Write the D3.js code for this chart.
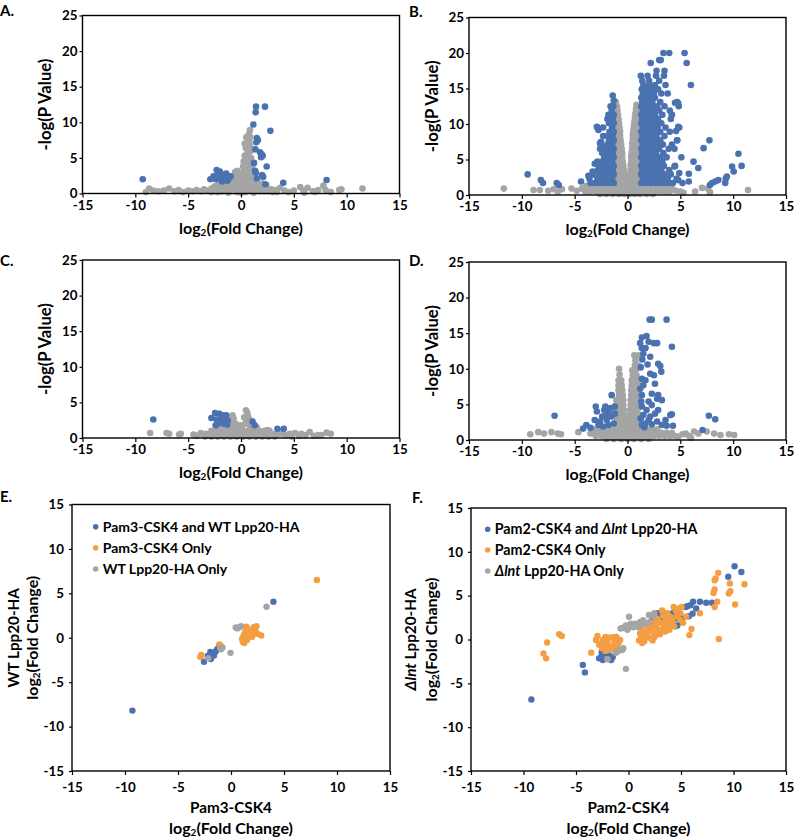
<!DOCTYPE html>
<html><head><meta charset="utf-8">
<script src="https://cdn.jsdelivr.net/npm/d3@7"></script>
<style>
body{margin:0;background:#fff}
svg text{font-family:Lato,"Open Sans",sans-serif;font-weight:bold;fill:#000}
</style></head>
<body><svg id="chart" width="796" height="837"></svg>
<script>
// ---------- tick values ----------
const xTicks = [-15,-10,-5,0,5,10,15];
const volcanoYTicks = [0,5,10,15,20,25];
const scatterYTicks = [-15,-10,-5,0,5,10,15];

// ---------- Panel A ----------
const aBlue = [[1.42,12.2],[2.27,12.2],[1.39,11.4],[1.17,9.7],[2.78,8.8],[1.5,7.8],[1.6,7.5],[1.45,7.2],[1.36,6.2],[1.8,5.8],[1.95,5.5],[1.9,5.1],[2.05,5.3],[1.23,4.3],[2.43,3.8],[1.33,3.2],[1.4,2.9],[2.0,2.6],[2.1,2.3],[1.5,2.1],[4.0,1.5],[2.3,1.3],[8.1,1.9],[-9.3,2.0],
  [-2.9,2.0],[-2.3,3.3],[-2.0,3.1],[-2.6,2.4],[-1.7,2.6],[-1.4,2.8],[-1.0,2.4],[-2.15,2.1],[-1.8,1.7],[-1.5,2.1],[-2.4,2.0],[-1.2,2.0],[-1.9,2.4],[-2.2,2.7],[-1.6,2.3],[-1.3,1.8]];
const aGrey = [[0.85,8.9],[0.75,8.3],[0.9,7.9],[0.7,7.6],[0.8,7.2],[0.65,6.8],[0.85,6.6],[0.6,6.2],[0.75,5.9],[0.55,5.5],[0.7,5.2],[0.5,4.8],[0.65,4.5],[0.45,4.1],[0.75,4.2],[0.5,3.7],[0.3,3.4],[0.8,3.5],[0.95,3.0],[-0.35,3.2],[-0.55,3.0],
  [0.95,6.0],[0.35,5.3],[0.95,5.0],[0.25,4.5],[1.0,4.4],[0.2,3.8],[1.05,3.8],[0.35,7.0],[0.45,6.4],[0.5,7.9],
  [0.1,2.8],[-0.2,2.6],[0.5,2.9],[0.3,2.4],[-0.7,2.5],[-0.4,2.2],[0.0,2.1],[0.7,2.4],[1.0,2.2],[1.2,1.8],[-1.0,1.9],[-0.9,1.5],[-0.5,1.7],[-0.1,1.6],[0.3,1.8],[0.6,1.6],[0.9,1.5],[1.3,1.3],[1.6,1.1],[-1.3,1.3],[-1.7,1.2],[-2.1,1.3],[-2.5,1.0],[-2.8,0.7],[-2.4,0.5],[-2.0,0.8],[-1.6,0.7],[-1.2,0.9],[-0.8,1.1],[-0.4,1.2],[0.0,1.1],[0.4,1.2],[0.8,1.0],[1.2,0.8],[1.7,0.7],[2.1,0.8],[2.5,0.7],[2.9,0.6],[3.3,0.5],[3.7,0.8],[2.4,1.2],[1.9,1.4],
  [-3.2,0.4],[-2.8,0.2],[-2.2,0.2],[-1.8,0.3],[-1.4,0.4],[-1.0,0.5],[-0.6,0.6],[-0.2,0.5],[0.2,0.6],[0.6,0.5],[1.0,0.4],[1.4,0.4],[1.8,0.3],[2.2,0.3],[2.6,0.3],[3.0,0.2],[3.4,0.2],[-0.4,0.2],[0.4,0.2],[-1.2,0.1],[1.2,0.1],[0,0.1],
  [-9.0,0.2],[-8.7,0.7],[-8.3,0.4],[-7.8,0.3],[-7.3,0.4],[-6.8,0.7],[-6.3,0.3],[-5.9,0.5],[-5.5,0.2],[-5.0,0.4],[-4.6,0.3],[-4.2,0.5],[-3.8,0.3],[-3.5,0.6],[4.1,0.4],[4.5,0.2],[5.0,0.4],[5.6,0.9],[5.9,0.4],[6.3,0.8],[6.8,0.3],[7.3,0.5],[7.8,1.1],[8.0,0.5],[8.5,0.2],[9.3,0.5],[9.5,0.6],[11.5,0.7],[7.0,0.2],[6.0,0.1]];

// ---------- Panel B (rows: [y, [x...]]) ----------
const bBlueRightRows = [[1.7,[1.3,1.75,2.2,2.65,3.1,3.55,4.0,4.3]],[2.3,[1.45,1.9,2.4,2.85,3.3,3.8,4.65]],[2.9,[1.3,1.7,2.15,2.6,3.05,3.5,4.1]],[3.5,[1.4,1.85,2.3,2.75,3.2,3.95]],[4.1,[1.3,1.7,2.2,2.6,3.0,3.45,4.5]],[4.7,[1.45,1.9,2.35,2.8,3.3]],[5.3,[1.3,1.75,2.2,2.65,3.1,3.7,5.1]],[5.9,[1.4,1.85,2.3,2.7,3.4]],[6.5,[1.3,1.7,2.15,2.6,3.0,3.9]],[7.1,[1.45,1.9,2.35,2.8,3.35,4.2]],[7.7,[1.3,1.75,2.2,2.65,3.1,4.7]],[8.3,[1.4,1.85,2.3,2.75,3.5]],[8.9,[1.3,1.7,2.15,2.6,3.1,4.0]],[9.5,[1.45,1.9,2.4,2.85,3.6,4.9]],[10.1,[1.3,1.75,2.2,2.7,3.2]],[10.7,[1.4,1.85,2.3,2.9,4.1]],[11.3,[1.3,1.7,2.15,2.6,3.3,4.2]],[11.9,[1.45,1.9,2.4,3.0,4.0]],[12.5,[1.3,1.75,2.2,2.8,3.5,4.85]],[13.1,[1.4,1.85,2.35,3.1,4.7]],[13.7,[1.3,1.7,2.2,2.6]],[14.3,[1.45,1.95,2.5,3.2,3.8]],[14.9,[1.35,1.8,2.3,2.9]],[15.5,[1.5,2.05,2.6,3.6,6.0]],[16.1,[1.4,2.05,3.0]],[16.8,[1.26,1.9,2.7,3.45]],[17.5,[2.75,3.5]],[18.6,[2.2,5.6]],[19.0,[3.0,3.15]],[20.0,[3.4,3.95,5.4]]];
const bBlueRightExtra = [[4.8,12.9],[4.5,13.0],[4.2,11.3],[4.8,9.6],[4.6,9.0],[4.7,7.7],[4.45,6.5],[4.45,4.0],[4.8,2.1],[4.9,3.1],[5.2,1.7],[6.25,4.7],[6.7,3.8],[5.8,3.0],[5.8,1.9],[7.2,6.6],[7.75,7.7],[10.5,5.8],[9.9,4.0],[10.05,3.3],[10.8,4.1],[9.4,2.6],[9.25,1.7],[8.3,1.9],[8.0,1.7],[7.8,1.4],[8.6,2.1],[9.3,2.3]];
const bBlueLeftRows = [[1.7,[-1.3,-1.75,-2.2,-2.65,-3.1,-3.5]],[2.3,[-1.45,-1.9,-2.4,-2.85,-3.6]],[2.9,[-1.3,-1.7,-2.15,-2.6,-3.2]],[3.5,[-1.4,-1.85,-2.35,-2.8]],[4.1,[-1.3,-1.75,-2.2,-2.7]],[4.7,[-1.45,-1.9,-2.4,-2.85]],[5.3,[-1.3,-1.75,-2.2]],[5.9,[-1.4,-1.85,-2.4]],[6.5,[-1.3,-1.7,-2.15,-2.6]],[7.1,[-1.45,-1.9,-2.5]],[7.7,[-1.3,-1.75]],[8.3,[-1.4,-1.9,-2.3]],[8.9,[-1.3,-1.7]],[9.5,[-1.45,-2.3,-2.85]],[10.1,[-1.3,-1.75]],[10.7,[-1.4,-1.9]],[11.3,[-1.3,-1.8]],[11.9,[-1.5]],[12.5,[-1.35,-1.6]],[13.3,[-1.3]],[14.0,[-1.4]]];
const bBlueLeftExtra = [[-2.75,9.15],[-2.9,9.6],[-2.5,7.5],[-2.6,7.3],[-2.9,4.5],[-3.1,4.4],[-3.7,2.7],[-4.4,1.9],[-9.45,2.9],[-8.2,2.1],[-8.0,1.7],[-6.7,1.7],[-6.5,1.4],[-3.3,3.3]];
const bGreyRows = [[13.1,[-1.1]],[12.5,[-1.0]],[11.9,[-0.95]],[11.3,[-0.9,-1.1]],[10.7,[-0.85,-1.05]],[10.1,[-0.8,-1.0]],[9.5,[-0.75,-1.0]],[8.9,[-0.7,-0.95]],[8.3,[-0.7,-1.0]],[7.7,[-0.65,-0.95]],[7.1,[-0.6,-0.95]],[6.5,[-0.55,-0.9,-1.15]],[5.9,[-0.5,-0.85,-1.15]],[5.3,[-0.5,-0.85,-1.15]],[4.7,[-0.45,-0.8,-1.15]],[4.1,[-0.4,-0.75,-1.1]],[3.5,[-0.35,-0.7,-1.05]],[2.9,[-0.3,-0.65,-1.0]],[2.3,[-0.3,-0.65,-1.0]],[1.7,[-0.2,-0.55,-0.9]],
  [12.7,[0.85]],[12.1,[0.8,1.0]],[11.5,[0.75,1.0]],[10.9,[0.7,0.95]],[10.3,[0.65,0.95]],[9.7,[0.6,0.9]],[9.1,[0.55,0.9]],[8.5,[0.5,0.85,1.1]],[7.9,[0.5,0.8,1.1]],[7.3,[0.45,0.8,1.1]],[6.7,[0.45,0.75,1.05]],[6.1,[0.4,0.75,1.05]],[5.5,[0.35,0.7,1.05]],[4.9,[0.35,0.7,1.0]],[4.3,[0.3,0.65,1.0]],[3.7,[0.3,0.65,1.0]],[3.1,[0.25,0.6,0.95]],[2.5,[0.2,0.55,0.9]],[1.9,[0.15,0.5,0.85]],
  [1.3,[-3.9,-3.4,-2.9,-2.4,-1.9,-1.4,-0.9,-0.4,0.0,0.4,0.9,1.4,1.9,2.4,2.9,3.4,3.9]],[0.9,[-4.3,-3.7,-3.2,-2.7,-2.2,-1.7,-1.2,-0.7,-0.2,0.25,0.7,1.2,1.7,2.2,2.7,3.2,3.7,4.2]],[0.5,[-4.0,-3.5,-3.0,-2.5,-2.0,-1.5,-1.0,-0.5,0.0,0.5,1.0,1.5,2.0,2.5,3.0,3.5,4.0]],[0.15,[-2.6,-2.0,-1.4,-0.8,-0.3,0.2,0.7,1.2,1.8,2.4]]];
const bGreyExtra = [[-11.7,0.9],[-8.9,0.7],[-8.3,0.7],[-7.5,0.6],[-7.0,0.8],[-6.6,0.5],[-6.2,0.8],[-5.3,0.9],[-4.8,0.6],[-4.3,0.9],[5.0,0.5],[5.3,0.3],[4.6,0.6],[6.4,0.5],[7.05,1.0],[7.6,0.9],[7.8,0.4],[11.4,0.7]];

// ---------- Panel C ----------
const cBlue = [[-8.3,2.6],[-2.45,3.5],[-2.8,2.8],[-2.05,3.4],[-1.75,3.2],[-1.4,3.2],[-2.2,2.0],[-1.9,2.5],[-2.4,1.8],[-1.6,2.0],[-1.25,2.5],[-1.75,2.8],[-2.3,2.6],[-1.5,2.6],[-2.0,2.2],[-1.3,1.9],[1.1,2.3],[1.3,1.8],[3.45,1.3],[4.05,1.3]];
const cGreyRows = [[1.4,[-1.3,-0.9,-0.4,0.1,0.9,1.3]],[1.0,[-2.8,-2.3,-1.8,-1.3,-0.8,-0.3,0.2,0.7,1.2,1.7,2.2,2.7]],[0.6,[-3.8,-3.3,-2.8,-2.3,-1.8,-1.3,-0.8,-0.3,0.2,0.7,1.2,1.7,2.2,2.7,3.2,3.7]],[0.2,[-3.4,-2.8,-2.2,-1.6,-1.0,-0.4,0.2,0.8,1.4,2.0,2.6,3.2]]];
const cGreyExtra = [[0.47,3.9],[0.6,3.5],[0.65,3.1],[0.8,2.6],[0.3,2.9],[0.5,2.4],[0.4,2.0],[0.75,2.0],[-0.8,3.2],[-0.7,2.7],[-0.95,2.3],[-0.5,2.0],[0.0,1.8],[-0.3,1.7],[1.0,1.8],[1.5,1.5],[-1.7,1.5],[-2.2,1.4],
  [-8.6,0.7],[-7.05,0.7],[-6.8,0.6],[-5.85,0.5],[-5.7,0.6],[-4.5,0.5],[-4.2,0.3],[-3.8,0.7],[4.2,0.4],[4.6,0.6],[5.1,0.7],[5.5,0.3],[5.7,0.6],[6.1,0.4],[6.5,0.85],[6.9,0.3],[7.3,0.4],[7.6,0.4],[8.1,0.75],[8.5,0.6],[4.8,0.2],[3.9,0.9],[3.5,0.6],[2.5,1.1]];

// ---------- Panel D ----------
const dBlue = [[2.1,16.9],[2.3,16.9],[3.7,16.9],[4.2,13.1],[1.36,14.4],[1.8,14.6],[2.0,13.8],[2.5,13.6],[2.8,13.6],[1.2,13.6],[1.36,12.9],[1.7,12.9],[1.5,12.1],[2.15,11.7],[2.9,10.7],[3.1,10.4],[3.2,9.6],[2.15,9.3],[2.5,9.1],[1.36,8.6],[1.7,8.4],[2.6,7.9],[1.2,7.2],[1.5,7.7],[2.3,6.5],[2.9,6.3],[2.8,5.8],[1.36,6.3],[2.0,5.4],[1.36,4.7],[2.3,4.9],[3.25,5.6],[1.8,4.2],[2.9,4.2],[1.5,3.5],[2.15,3.3],[2.6,3.7],[3.6,2.8],[4.05,3.5],[4.2,3.6],[4.3,2.0],[1.7,2.3],[2.3,2.2],[3.25,2.1],[1.36,2.1],[2.0,2.8],[2.8,2.6],[3.7,2.0],[7.7,3.4],[8.3,2.9],[7.1,1.4],[1.25,10.2],[1.4,11.3],[1.9,10.6],[1.3,5.4],[1.25,3.0],[1.6,1.8],
  [-6.9,3.4],[-1.5,6.3],[-3.0,4.7],[-2.1,4.7],[-2.9,4.0],[-1.8,4.0],[-2.4,3.3],[-2.6,2.6],[-1.96,2.8],[-1.5,3.3],[-3.1,2.8],[-2.75,2.1],[-1.8,2.1],[-1.3,2.3],[-3.9,2.1],[-3.5,1.7],[-4.2,1.6],[-2.3,1.9],[-1.2,4.7],[-1.2,3.7],[-2.2,4.2],[-1.6,4.5],[-2.0,3.5]];
const dGreyRows = [[10.0,[-0.8]],[9.2,[-0.75]],[8.4,[-0.6,-0.85]],[7.7,[-0.55,-0.85]],[7.0,[-0.5,-0.85]],[6.3,[-0.45,-0.8]],[5.6,[-0.4,-0.75,-1.05]],[4.9,[-0.4,-0.75,-1.05]],[4.2,[-0.35,-0.7,-1.05]],[3.5,[-0.3,-0.65,-1.0]],[2.8,[-0.3,-0.65,-1.0]],[2.1,[-0.25,-0.6,-0.95]],
  [11.9,[0.65,1.05]],[11.2,[0.75]],[10.5,[0.7,1.0]],[9.8,[0.45,0.8]],[9.1,[0.5,0.85]],[8.4,[0.4,0.75,1.1]],[7.7,[0.4,0.75,1.1]],[7.0,[0.35,0.7,1.05]],[6.3,[0.35,0.7,1.05]],[5.6,[0.3,0.65,1.0]],[4.9,[0.3,0.65,1.0]],[4.2,[0.25,0.6,0.95]],[3.5,[0.2,0.55,0.9,1.15]],[2.8,[0.15,0.5,0.85,1.15]],[2.1,[0.1,0.45,0.8,1.15]],
  [1.5,[-2.6,-2.1,-1.6,-1.1,-0.6,-0.1,0.35,0.8,1.3,1.8,2.3,2.8]],[1.0,[-3.3,-2.8,-2.3,-1.8,-1.3,-0.8,-0.3,0.2,0.7,1.2,1.7,2.2,2.7,3.2,3.7,4.2]],[0.55,[-3.0,-2.5,-2.0,-1.5,-1.0,-0.5,0.0,0.5,1.0,1.5,2.0,2.5,3.0,3.5,4.0,4.5]],[0.15,[-2.0,-1.3,-0.6,0.0,0.6,1.3,2.0]]];
const dGreyExtra = [[-9.2,0.8],[-8.45,1.1],[-7.9,0.9],[-7.2,1.1],[-6.6,0.9],[-6.3,0.8],[-4.65,1.1],[-3.5,0.9],[-3.1,1.5],[5.2,0.8],[5.5,0.9],[6.3,1.2],[6.7,0.9],[7.5,1.2],[8.2,0.9],[8.8,0.7],[9.6,0.8],[10.1,0.7],[5.8,0.6],[4.8,0.5],[6.0,0.3]];

// ---------- Panel E ----------
const eBlue = [[-9.3,-8.2],[4.0,4.05],[-2.55,-2.7],[-2.05,-2.2],[-1.75,-1.8],[-1.45,-1.55],[-1.3,-1.3],[-1.6,-2.0],[-1.9,-2.4],[-1.15,-1.1],[-1.95,-1.6],[-2.2,-2.05]];
const eOrange = [[8.1,6.5],[-2.8,-1.95],[-2.9,-2.15],[-1.0,-0.85],[-1.1,-0.75],[1.45,1.25],[2.4,1.3],[2.85,0.25],[2.15,0.5],[1.8,0.7],[1.2,0.3],[1.1,-0.45],[1.5,-0.25],[1.65,0.1],[2.0,0.1],[1.35,0.7],[2.3,0.75],[1.6,0.95],[1.05,-0.1],[2.15,1.2],[1.25,-0.6],[1.9,0.35],[2.5,0.45],[1.4,0.0]];
const eGrey = [[3.35,3.5],[0.95,1.3],[0.6,1.05],[0.45,1.15],[0.8,1.2],[-0.05,-1.7],[-0.8,-1.1],[-0.95,-1.3],[-2.15,-2.3],[-1.0,-1.15]];

// ---------- Panel F ----------
const fBlue = [[-9.25,-6.85],[-4.35,-2.9],[-4.15,-3.75],[10.1,8.35],[9.5,7.15],[10.75,7.7],[6.15,4.3],[6.8,4.3],[5.6,3.8],[6.45,3.55],[7.4,4.2],[7.95,4.2],[5.9,3.9],[5.45,3.7],[6.1,2.95],[5.1,2.5],[2.75,3.0],[3.2,2.6],[4.2,3.0],[4.5,2.4],[4.95,2.0],[4.65,1.6],[3.85,1.8],[2.3,2.2],[1.95,1.8],[5.75,2.65],[3.55,2.95],[4.45,1.5],[2.6,2.2],
  [-2.6,-2.0],[-2.45,-2.35],[-1.85,-1.8],[-1.5,-2.0],[-2.0,-2.15],[-1.2,-1.4],[-2.3,-1.6],[-2.8,-2.15],[-1.65,-2.35],[-2.55,-1.45]];
const fOrange = [[-7.75,-0.35],[-8.1,-1.6],[-7.85,-2.15],[-6.6,0.6],[-6.35,0.4],[-3.55,-1.5],
  [-2.95,0.4],[-3.1,-0.05],[-2.45,-0.05],[-1.8,0.2],[-1.15,0.3],[-0.8,-0.05],[-0.95,-0.4],[-1.4,-0.6],[-2.0,-0.8],[-2.5,-1.0],[-1.8,-1.2],[-2.5,-0.4],[-1.3,-0.2],[-2.0,-0.3],[-2.2,0.3],[-1.5,0.25],[-2.8,-0.6],[-1.1,-0.9],[-2.2,-1.3],[-1.6,-0.9],
  [1.0,-0.1],[1.2,0.35],[1.7,0.75],[2.15,1.1],[2.6,1.5],[3.1,1.9],[3.55,2.25],[4.0,2.6],[4.5,3.3],[4.95,3.0],[4.3,3.7],[4.9,2.25],[2.45,0.75],[2.0,0.2],[1.5,-0.2],[2.95,1.1],[3.4,1.5],[3.9,1.9],[4.35,1.5],[1.35,1.1],[1.85,1.5],[2.3,1.9],[2.8,2.25],[3.3,2.7],[3.9,1.1],[5.2,1.9],[1.1,0.7],[1.6,0.3],[2.5,0.3],[3.0,0.6],[3.5,0.9],[2.8,1.0],[1.3,-0.4],[2.2,1.6],[3.7,3.0],[3.2,3.3],[2.5,2.6],[4.6,2.7],[5.5,2.6],
  [1.9,0.9],[2.7,1.8],[3.6,1.6],[4.2,2.2],[1.45,0.4],[2.3,-0.1],[3.3,1.2],[4.7,3.5],
  [8.55,7.6],[8.3,6.95],[8.2,5.7],[8.1,5.3],[9.55,5.25],[9.7,5.5],[11.05,6.3],[8.45,4.3],[8.2,3.7],[10.15,4.0],[8.6,0.05],[6.0,1.2],[5.8,0.5],[6.8,3.0],[5.05,3.7],[9.65,6.4],[8.2,6.75]];
const fGrey = [[-0.6,1.3],[-0.25,1.6],[0.2,1.8],[0.05,2.6],[0.6,1.8],[1.1,2.0],[1.55,1.8],[2.0,2.0],[2.3,2.75],[0.45,1.4],[0.95,1.4],[-0.1,1.1],[-0.75,1.25],[1.95,2.8],[2.45,3.0],[1.2,1.8],[0.3,1.5],[0.8,1.7],[1.4,2.2],[-0.4,1.4],
  [-0.9,-1.2],[-0.5,-1.0],[-1.2,-1.5],[-0.25,-3.35],[-2.0,-2.25],[-0.6,-1.2],[-1.0,-1.35]];

// ---------- colors ----------
const BLUE = "#4a72b0", GREY = "#a5a5a5", ORANGE = "#f59d42";

const svg = d3.select("#chart");
svg.append("rect").attr("width",796).attr("height",837).attr("fill","#fff");
const rows = r => r.flatMap(([y,xs]) => xs.map(x => [x,y]));

// font sizes calibrated on reference text widths
function sizeFor(build, target){
  const t = svg.append("text").attr("font-size",20).attr("x",-500).attr("y",-500);
  build(t);
  const L = t.node().getComputedTextLength();
  t.remove();
  return 20*target/L;
}
function logTitle(sel){
  sel.append("tspan").text("log");
  sel.append("tspan").attr("font-size","0.62em").attr("dy","0.25em").text("2");
  sel.append("tspan").attr("dy","-0.155em").text("(Fold Change)");
}
const FS_TICK = sizeFor(t => t.text("10"), 15.5);
const FS_YT = sizeFor(t => t.text("-log(P Value)"), 92);
const FS_XT = sizeFor(logTitle, 124);
const FS_PAM = sizeFor(t => t.text("Pam3-CSK4"), 82);
const FS_LEGE = sizeFor(t => t.text("Pam3-CSK4 and WT Lpp20-HA"), 197);
const FS_LEGF = sizeFor(t => { t.attr("font-weight",600); t.append("tspan").text("Pam2-CSK4 and "); t.append("tspan").attr("font-style","italic").text("\u0394lnt"); t.append("tspan").text(" Lpp20-HA"); }, 203);
const FS_LBL = 15;

function panel(c){
  const x = d3.scaleLinear().domain([-15,15]).range([c.x0,c.x1]);
  const y = d3.scaleLinear().domain(c.yDomain).range([c.y1,c.y0]);
  const g = svg.append("g");
  c.series.forEach(s => {
    g.append("g").selectAll("circle").data(s.data).join("circle")
      .attr("cx", d => x(d[0])).attr("cy", d => y(d[1])).attr("r", c.r).attr("fill", s.color);
  });
  g.append("rect").attr("x",c.x0).attr("y",c.y0).attr("width",c.x1-c.x0).attr("height",c.y1-c.y0)
    .attr("fill","none").attr("stroke","#000").attr("stroke-width",1.4);
  const xa = g.append("g").attr("transform",`translate(0,${c.y1})`)
    .call(d3.axisBottom(x).tickValues(xTicks).tickFormat(d => String(d)).tickSize(4).tickSizeOuter(0).tickPadding(c.xPad));
  const ya = g.append("g").attr("transform",`translate(${c.x0},0)`)
    .call(d3.axisLeft(y).tickValues(c.yTicks).tickFormat(d => String(d)).tickSize(3).tickSizeOuter(0).tickPadding(c.yPad));
  [xa,ya].forEach(a => {
    a.select(".domain").remove();
    a.selectAll("line").attr("stroke","#000").attr("stroke-width",1.2);
    a.selectAll("text").attr("font-size",FS_TICK);
    a.attr("font-family",null).attr("font-size",null);
  });
  g.append("text").attr("x",c.lx).attr("y",c.ly).attr("font-size",FS_LBL).text(c.label);
  return {g,x,y};
}

function volcano(c){
  const p = panel(Object.assign({yDomain:[0,25], yTicks:volcanoYTicks, r:3.3, xPad:3, yPad:2}, c));
  const cx = (c.x0+c.x1)/2, cy=(c.y0+c.y1)/2;
  p.g.append("text").attr("transform",`translate(${c.x0-37},${cy}) rotate(-90)`).attr("text-anchor","middle")
    .attr("dy","0.35em").attr("font-size",FS_YT).text("-log(P Value)");
  logTitle(p.g.append("text").attr("x",cx).attr("y",c.y1+40).attr("text-anchor","middle").attr("font-size",FS_XT));
}

volcano({x0:82.5,x1:399.5,y0:15.5,y1:193.5,label:"A.",lx:0,ly:16,
  series:[{data:aGrey,color:GREY},{data:aBlue,color:BLUE}]});
volcano({x0:469,x1:786,y0:17.5,y1:195,label:"B.",lx:409,ly:17,
  series:[{data:rows(bGreyRows).concat(bGreyExtra),color:GREY},{data:rows(bBlueRightRows).concat(bBlueRightExtra,rows(bBlueLeftRows),bBlueLeftExtra),color:BLUE}]});
volcano({x0:82.5,x1:399.5,y0:260,y1:438,label:"C.",lx:0,ly:266,
  series:[{data:rows(cGreyRows).concat(cGreyExtra),color:GREY},{data:cBlue,color:BLUE}]});
volcano({x0:469,x1:786,y0:262,y1:440,label:"D.",lx:409,ly:266,
  series:[{data:rows(dGreyRows).concat(dGreyExtra),color:GREY},{data:dBlue,color:BLUE}]});

function scatter(c){
  const p = panel(Object.assign({yDomain:[-15,15], yTicks:scatterYTicks, r:3.2, xPad:8, yPad:5}, c));
  const cx = (c.x0+c.x1)/2, cy=(c.y0+c.y1)/2;
  const t1 = p.g.append("text").attr("transform",`translate(${c.yt1},${cy}) rotate(-90)`).attr("text-anchor","middle")
    .attr("dy","0.35em").attr("font-size",FS_PAM);
  c.yTitle1(t1);
  logTitle(p.g.append("text").attr("transform",`translate(${c.yt2},${cy}) rotate(-90)`).attr("text-anchor","middle")
    .attr("dy","0.35em").attr("font-size",FS_XT));
  p.g.append("text").attr("x",cx).attr("y",c.y1+42).attr("text-anchor","middle").attr("font-size",FS_PAM).text(c.xTitle);
  logTitle(p.g.append("text").attr("x",cx).attr("y",c.y1+63).attr("text-anchor","middle").attr("font-size",FS_XT));
  c.legend.forEach((l,i) => {
    p.g.append("circle").attr("cx",c.legX).attr("cy",c.legY[i]).attr("r",2.8).attr("fill",l.color);
    const t = p.g.append("text").attr("x",c.legX+7).attr("y",c.legY[i]).attr("dy","0.35em")
      .attr("font-size",c.legSize).attr("font-weight",c.legWeight);
    l.text(t);
  });
}

scatter({x0:72,x1:390,y0:504.5,y1:771,label:"E.",lx:0,ly:502,
  series:[{data:eBlue,color:BLUE},{data:eOrange,color:ORANGE},{data:eGrey,color:GREY}],
  yt1:13.5, yt2:32, xTitle:"Pam3-CSK4",
  yTitle1: t => t.text("WT Lpp20-HA"),
  legX:95.7, legY:[526.7,547.7,569], legSize:FS_LEGE, legWeight:"bold",
  legend:[{color:BLUE,text:t=>t.text("Pam3-CSK4 and WT Lpp20-HA")},{color:ORANGE,text:t=>t.text("Pam3-CSK4 Only")},{color:GREY,text:t=>t.text("WT Lpp20-HA Only")}]});

scatter({x0:471,x1:786,y0:508,y1:771,label:"F.",lx:412,ly:503,
  series:[{data:fBlue,color:BLUE},{data:fOrange,color:ORANGE},{data:fGrey,color:GREY}],
  yt1:411, yt2:431, xTitle:"Pam2-CSK4",
  yTitle1: t => { t.append("tspan").attr("font-style","italic").text("\u0394lnt"); t.append("tspan").text(" Lpp20-HA"); },
  legX:487.7, legY:[529.3,550,571], legSize:FS_LEGF, legWeight:600,
  legend:[{color:BLUE,text:t=>{t.append("tspan").text("Pam2-CSK4 and "); t.append("tspan").attr("font-style","italic").text("\u0394lnt"); t.append("tspan").text(" Lpp20-HA");}},
          {color:ORANGE,text:t=>t.text("Pam2-CSK4 Only")},
          {color:GREY,text:t=>{t.append("tspan").attr("font-style","italic").text("\u0394lnt"); t.append("tspan").text(" Lpp20-HA Only");}}]});
</script></body></html>
